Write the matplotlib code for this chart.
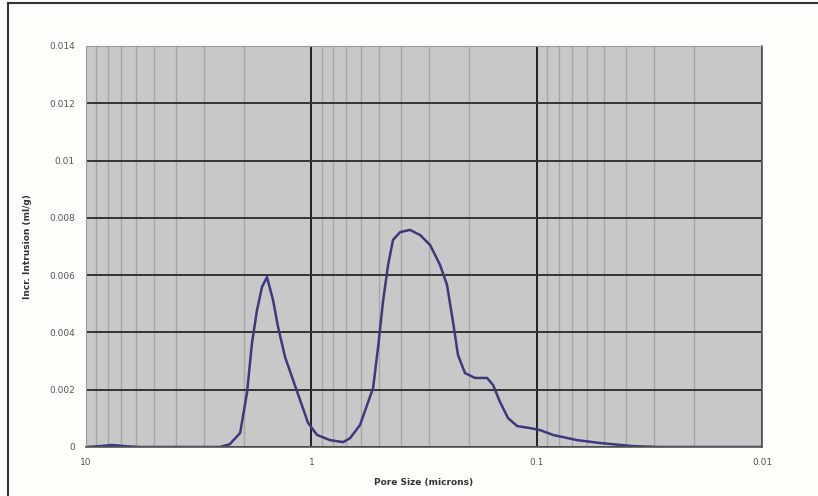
import numpy as np
import matplotlib.pyplot as plt
from matplotlib.lines import Line2D
from matplotlib.ticker import FixedLocator, NullFormatter

# pore size (microns) and incremental intrusion (ml/g)
pore_size = [10, 8.67, 7.67, 6.71, 5.75, 2.54, 2.30, 2.07, 1.93, 1.834, 1.742,
             1.655, 1.573, 1.479, 1.405, 1.308, 1.218, 1.122, 1.034, 0.943,
             0.826, 0.723, 0.673, 0.608, 0.532, 0.506, 0.481, 0.4566, 0.434,
             0.404, 0.365, 0.329, 0.297, 0.2683, 0.250, 0.235, 0.2234, 0.208,
             0.1877, 0.166, 0.156, 0.1454, 0.134, 0.122, 0.107, 0.0966,
             0.0846, 0.0662, 0.0524, 0.0373, 0.0283, 0.01]
intrusion = [0, 0.00003, 0.00007, 0.00003, 0, 0, 0.0001, 0.00049, 0.00189,
             0.00363, 0.00478, 0.00559, 0.00593, 0.00513, 0.00419, 0.00314,
             0.00244, 0.00164, 0.00084, 0.00042, 0.00024, 0.00017, 0.00031,
             0.00077, 0.00206, 0.00346, 0.00506, 0.00635, 0.00723, 0.0075,
             0.00758, 0.0074, 0.00705, 0.00635, 0.00566, 0.00436, 0.00321,
             0.00258, 0.00241, 0.00241, 0.00216, 0.00157, 0.00101, 0.00073,
             0.00066, 0.00059, 0.00042, 0.00024, 0.00014, 0.00003, 0, 0]

y_ticks = [0, 0.002, 0.004, 0.006, 0.008, 0.01, 0.012, 0.014]
y_labels = ['0', '0.002', '0.004', '0.006', '0.008', '0.01', '0.012', '0.014']
x_ticks = [10, 1, 0.1, 0.01]
x_labels = ['10', '1', '0.1', '0.01']

fig = plt.figure(figsize=(8.18, 4.96), dpi=100, facecolor='#fefdf9')
ax = fig.add_axes([86/818, 1-447/496, (762-86)/818, (447-46)/496])
ax.set_facecolor('#c8c8c8')

ax.set_xscale('log')
ax.set_xlim(10, 0.01)
ax.set_ylim(0, 0.014)

minors = [m * 10.0**e for e in (-2, -1, 0) for m in range(2, 10)]
ax.xaxis.set_major_locator(FixedLocator(x_ticks))
ax.xaxis.set_minor_locator(FixedLocator(minors))
ax.xaxis.set_minor_formatter(NullFormatter())
ax.set_xticks(x_ticks)
ax.set_xticklabels(x_labels)
ax.set_yticks(y_ticks)
ax.set_yticklabels(y_labels)

ax.grid(True, which='minor', axis='x', color='#a6a6a6', lw=1.0)
ax.grid(True, which='major', axis='x', color='#222222', lw=1.4)
ax.grid(True, which='major', axis='y', color='#333333', lw=1.4)
ax.set_axisbelow(True)

ax.tick_params(which='both', length=0, labelsize=6.5, colors='#555555', pad=8)

for side in ('top', 'left'):
    ax.spines[side].set_color('#9a9a9a')
    ax.spines[side].set_linewidth(0.8)
for side in ('right', 'bottom'):
    ax.spines[side].set_color('#555555')
    ax.spines[side].set_linewidth(1.2)

ax.plot(pore_size, intrusion, color='#3c3a7c', lw=1.8,
        solid_joinstyle='round', solid_capstyle='round')

ax.set_xlabel('Pore Size (microns)', fontsize=6.5, fontweight='bold', color='#333333', labelpad=8)
ax.set_ylabel('Incr. Intrusion (ml/g)', fontsize=6.5, fontweight='bold', color='#333333', labelpad=12)

# outer frame lines
fig.add_artist(Line2D([8/818, 1], [1-3/496, 1-3/496], transform=fig.transFigure, color='#333333', lw=1.5))
fig.add_artist(Line2D([8/818, 8/818], [0, 1-3/496], transform=fig.transFigure, color='#333333', lw=1.5))

fig.savefig('out.png', dpi=100, facecolor=fig.get_facecolor())
